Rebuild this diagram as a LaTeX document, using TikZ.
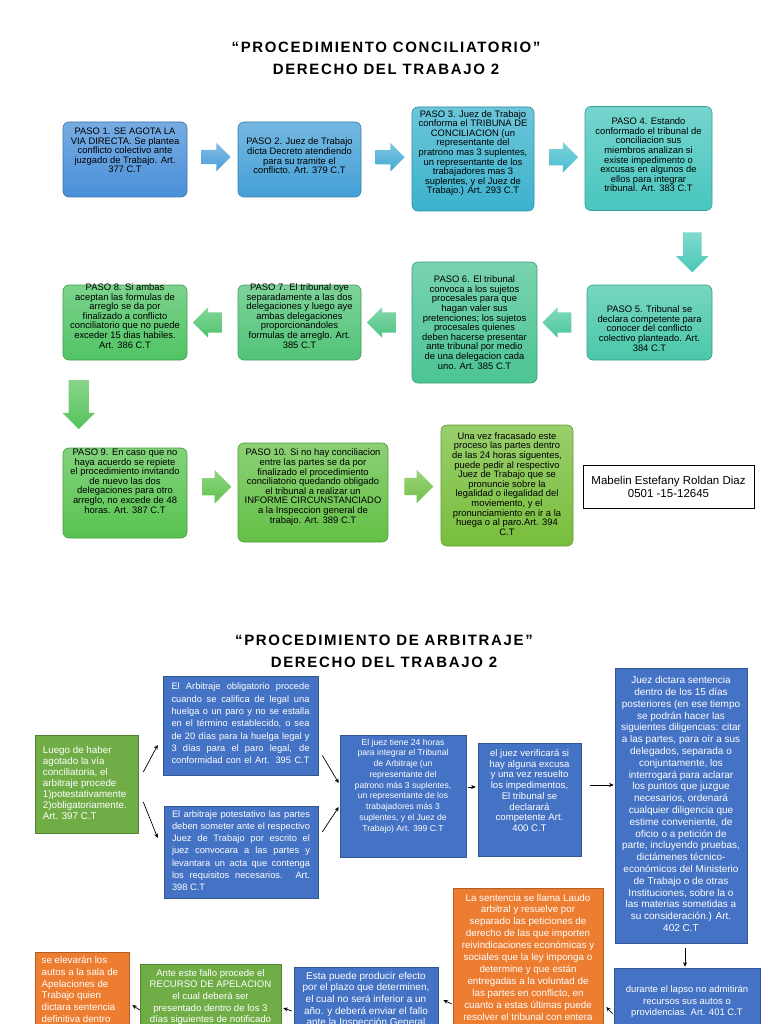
\documentclass[tikz,border=0pt]{standalone}
\usepackage{fontspec}
\setmainfont{Liberation Sans}
\newfontfamily\titlefont[LetterSpace=11]{Liberation Sans}
\usetikzlibrary{shapes.arrows,calc,arrows.meta}
\definecolor{c1}{HTML}{4A90D9}
\definecolor{c2}{HTML}{45A0D6}
\definecolor{c3}{HTML}{3CB2CD}
\definecolor{c4}{HTML}{48C6BE}
\definecolor{c5}{HTML}{4AC8AA}
\definecolor{c6}{HTML}{4CC494}
\definecolor{c7}{HTML}{52C478}
\definecolor{c8}{HTML}{50C464}
\definecolor{c9}{HTML}{58C350}
\definecolor{c10}{HTML}{64C046}
\definecolor{c11}{HTML}{78BE3C}
\definecolor{ca12}{HTML}{4A9EDA}
\definecolor{ca23}{HTML}{45ABD4}
\definecolor{ca34}{HTML}{48BECE}
\definecolor{ca45}{HTML}{49C9B8}
\definecolor{ca56}{HTML}{4BC8A0}
\definecolor{ca67}{HTML}{4FC585}
\definecolor{ca78}{HTML}{4FC46C}
\definecolor{ca89}{HTML}{56C35A}
\definecolor{ca910}{HTML}{60C24E}
\definecolor{ca1011}{HTML}{72C046}
\definecolor{cblue}{HTML}{4472C4}
\definecolor{cgreen}{HTML}{70AD47}
\definecolor{corange}{HTML}{ED7D31}
\newcommand\jl[1]{\makebox[138pt][s]{#1}}
\begin{document}
\begin{tikzpicture}[x=1pt,y=-1pt,
  pbox/.style={rounded corners=6pt, draw=#1!80!black, line width=0.6pt, top color=#1!75!white, bottom color=#1, inner sep=0pt},
  ptext/.style={align=center, inner sep=0pt, text=black, font=\fontsize{9.4}{9.6}\selectfont},
  barrow/.style={single arrow, draw=none, inner sep=0pt, top color=#1!70!white, bottom color=#1},
  bbox/.style={fill=#1, draw=#1!75!black, line width=0.6pt, inner sep=0pt},
  btext/.style={align=center, inner sep=0pt, text=white},
  thinarr/.style={-{Stealth[length=4.5pt,width=4pt]}, line width=0.7pt, black},
  titl/.style={inner sep=0pt, font=\titlefont\bfseries\fontsize{15}{16}\selectfont},
]
\path[use as bounding box] (0,0) rectangle (768,1024);
\fill[white] (0,0) rectangle (768,1024);
\clip (0,0) rectangle (768,1024);

% ---------- titles
\node[titl] (t1) at (386,47) {“PROCEDIMIENTO CONCILIATORIO”};
\node[titl] (t2) at (386,69) {DERECHO DEL TRABAJO 2};
\node[titl] (t3) at (384,640) {“PROCEDIMIENTO DE ARBITRAJE”};
\node[titl] (t4) at (384,662) {DERECHO DEL TRABAJO 2};

% ---------- conciliatorio boxes
\node[pbox=c1, minimum width=124pt, minimum height=75pt] (p1) at (125,159.5) {};
\node[pbox=c2, minimum width=123pt, minimum height=75pt] (p2) at (299.5,159.5) {};
\node[pbox=c3, minimum width=122pt, minimum height=104pt] (p3) at (473,159) {};
\node[pbox=c4, minimum width=127pt, minimum height=104pt] (p4) at (648.5,158.5) {};
\node[pbox=c5, minimum width=125pt, minimum height=75pt] (p5) at (649.5,322.5) {};
\node[pbox=c6, minimum width=125pt, minimum height=121pt] (p6) at (474.5,322.5) {};
\node[pbox=c7, minimum width=123pt, minimum height=75pt] (p7) at (299.5,322.5) {};
\node[pbox=c8, minimum width=124pt, minimum height=75pt] (p8) at (125,322.5) {};
\node[pbox=c9, minimum width=124pt, minimum height=90pt] (p9) at (125,493) {};
\node[pbox=c10, minimum width=150pt, minimum height=99pt] (p10) at (313,492.5) {};
\node[pbox=c11, minimum width=132pt, minimum height=121pt] (p11) at (507,485.5) {};

\node[ptext] (p1t) at ($(p1)+(0,-9)$) {PASO 1. SE AGOTA LA\\VIA DIRECTA. Se plantea\\conflicto colectivo ante\\juzgado de Trabajo. Art.\\377 C.T};
\node[ptext] (p2t) at ($(p2)+(0,-3.5)$) {PASO 2. Juez de Trabajo\\dicta Decreto atendiendo\\para su tramite el\\conflicto. Art. 379 C.T};
\node[ptext] (p3t) at ($(p3)+(0,-6)$) {PASO 3. Juez de Trabajo\\conforma el TRIBUNA DE\\CONCILIACION (un\\representante del\\pratrono mas 3 suplentes,\\un representante de los\\trabajadores mas 3\\suplentes, y el Juez de\\Trabajo.) Art. 293 C.T};
\node[ptext] (p4t) at ($(p4)+(0,-3.5)$) {PASO 4. Estando\\conformado el tribunal de\\conciliacion sus\\miembros analizan si\\existe impedimento o\\excusas en algunos de\\ellos para integrar\\tribunal. Art. 383 C.T};
\node[ptext] (p5t) at ($(p5)+(0,6)$) {PASO 5. Tribunal se\\declara competente para\\conocer del conflicto\\colectivo planteado. Art.\\384 C.T};
\node[ptext] (p6t) at (p6) {PASO 6. El tribunal\\convoca a los sujetos\\procesales para que\\hagan valer sus\\pretenciones; los sujetos\\procesales quienes\\deben hacerse presentar\\ante tribunal por medio\\de una delegacion cada\\uno. Art. 385 C.T};
\node[ptext] (p7t) at ($(p7)+(0,-6.5)$) {PASO 7. El tribunal oye\\separadamente a las dos\\delegaciones y luego aye\\ambas delegaciones\\proporcionandoles\\formulas de arreglo. Art.\\385 C.T};
\node[ptext] (p8t) at ($(p8)+(0,-6.5)$) {PASO 8. Si ambas\\aceptan las formulas de\\arreglo se da por\\finalizado a conflicto\\conciliatorio que no puede\\exceder 15 dias habiles.\\Art. 386 C.T};
\node[ptext] (p9t) at ($(p9)+(0,-12)$) {PASO 9. En caso que no\\haya acuerdo se repiete\\el procedimiento invitando\\de nuevo las dos\\delegaciones para otro\\arreglo, no excede de 48\\horas. Art. 387 C.T};
\node[ptext] (p10t) at ($(p10)+(0,-5.5)$) {PASO 10. Si no hay conciliacion\\entre las partes se da por\\finalizado el procedimiento\\conciliatorio quedando obligado\\el tribunal a realizar un\\INFORME CIRCUNSTANCIADO\\a la Inspeccion general de\\trabajo. Art. 389 C.T};
\node[ptext] (p11t) at ($(p11)+(0,-1.5)$) {Una vez fracasado este\\proceso las partes dentro\\de las 24 horas siguentes,\\puede pedir al respectivo\\Juez de Trabajo que se\\pronuncie sobre la\\legalidad o ilegalidad del\\moviemento, y el\\pronunciamiento en ir a la\\huega o al paro.Art. 394\\C.T};

\node[draw=black, line width=0.8pt, minimum width=171pt, minimum height=43pt, align=center, inner sep=0pt, font=\fontsize{11.5}{13}\selectfont] (name) at (668.5,486.5) {Mabelin Estefany Roldan Diaz\\0501 -15-12645};

% ---------- block arrows
\node[barrow=ca12, minimum height=29pt, inner ysep=7pt, single arrow head extend=7pt, yshift=2.5pt] (a12) at ($(p1.east)!0.5!(p2.west)$) {};
\node[barrow=ca23, minimum height=29pt, inner ysep=7pt, single arrow head extend=7pt, yshift=2pt] (a23) at ($(p2.east)!0.5!(p3.west)$) {};
\node[barrow=ca34, minimum height=29pt, inner ysep=8pt, single arrow head extend=7pt, yshift=1.5pt] (a34) at ($(p3.east)!0.5!(p4.west)$) {};
\node[barrow=ca45, minimum height=40pt, inner xsep=9pt, single arrow head extend=7pt, shape border rotate=270, xshift=-20pt] (a45) at ($(p4.south east)!0.5!(p5.north east)$) {};
\node[barrow=ca56, minimum height=29pt, inner ysep=10pt, single arrow head extend=5pt, shape border rotate=180] (a56) at ($(p6.east)!0.5!(p5.west)$) {};
\node[barrow=ca67, minimum height=29pt, inner ysep=10pt, single arrow head extend=5pt, shape border rotate=180] (a67) at ($(p7.east)!0.5!(p6.west)$) {};
\node[barrow=ca78, minimum height=29pt, inner ysep=10pt, single arrow head extend=5pt, shape border rotate=180] (a78) at ($(p8.east)!0.5!(p7.west)$) {};
\node[barrow=ca89, minimum height=49pt, inner xsep=10pt, single arrow head extend=6pt, shape border rotate=270, xshift=16pt, yshift=4.5pt] (a89) at ($(p8.south west)!0.5!(p9.north west)$) {};
\node[barrow=ca910, minimum height=29pt, inner ysep=8.5pt, single arrow head extend=8pt, yshift=6pt] (a910) at ($(p9.east)!0.5!(p10.west)$) {};
\node[barrow=ca1011, minimum height=29pt, inner ysep=8.5pt, single arrow head extend=8pt, yshift=2.5pt] (a1011) at ($(p10.east)!0.5!(p11.west)$) {};

% ---------- arbitraje boxes
\node[bbox=cgreen, minimum width=103pt, minimum height=98pt] (g1) at (86.5,784) {};
\node[bbox=cblue, minimum width=155pt, minimum height=99pt] (b1) at (240.5,725.5) {};
\node[bbox=cblue, minimum width=154pt, minimum height=92pt] (b2) at (241,852) {};
\node[bbox=cblue, minimum width=126pt, minimum height=122pt] (b3) at (403,796) {};
\node[bbox=cblue, minimum width=103pt, minimum height=113pt] (b4) at (529.5,799.5) {};
\node[bbox=cblue, minimum width=132pt, minimum height=275pt] (b5) at (681,805.5) {};
\node[bbox=cblue, minimum width=146pt, minimum height=92pt] (b6) at (687,1014) {};
\node[bbox=corange, minimum width=150pt, minimum height=172pt] (o1) at (528,974) {};
\node[bbox=cblue, minimum width=144pt, minimum height=93pt] (b7) at (366,1013.5) {};
\node[bbox=cgreen, minimum width=141pt, minimum height=96pt] (g2) at (210.5,1012) {};
\node[bbox=corange, minimum width=94pt, minimum height=108pt] (o2) at (82,1006) {};

\node[btext, align=left, anchor=west, font=\fontsize{9.8}{11}\selectfont] (g1t) at ($(g1.west)+(8,-1)$) {Luego de haber\\agotado la vía\\conciliatoria, el\\arbitraje procede\\1)potestativamente\\2)obligatoriamente.\\Art. 397 C.T};
\node[btext, align=left, font=\fontsize{9.3}{12.3}\selectfont] (b1t) at ($(b1)+(0,-2)$) {\jl{El Arbitraje obligatorio procede}\\\jl{cuando se califica de legal una}\\\jl{huelga o un paro y no se estalla}\\\jl{en el término establecido, o sea}\\\jl{de 20 días para la huelga legal y}\\\jl{3 días para el paro legal, de}\\\jl{conformidad con el Art. 395 C.T}};
\node[btext, align=left, font=\fontsize{9.3}{12.2}\selectfont] (b2t) at ($(b2)+(0,-1.5)$) {\jl{El arbitraje potestativo las partes}\\\jl{deben someter ante el respectivo}\\\jl{Juez de Trabajo por escrito el}\\\jl{juez convocara a las partes y}\\\jl{levantara un acta que contenga}\\\jl{los requisitos necesarios. Art.}\\398 C.T};
\node[btext, font=\fontsize{8.6}{10.75}\selectfont] (b3t) at ($(b3)+(0,-10)$) {El juez tiene 24 horas\\para integrar el Tribunal\\de Arbitraje (un\\representante del\\patrono más 3 suplentes,\\un representante de los\\trabajadores más 3\\suplentes, y el Juez de\\Trabajo) Art. 399 C.T};
\node[btext, font=\fontsize{9.6}{10.7}\selectfont] (b4t) at ($(b4)+(0,-9)$) {el juez verificará si\\hay alguna excusa\\y una vez resuelto\\los impedimentos,\\El tribunal se\\declarará\\competente Art.\\400 C.T};
\node[btext, font=\fontsize{10}{11.8}\selectfont] (b5t) at ($(b5)+(0,-1.5)$) {Juez dictara sentencia\\dentro de los 15 días\\posteriores (en ese tiempo\\se podrán hacer las\\siguientes diligencias: citar\\a las partes, para oír a sus\\delegados, separada o\\conjuntamente, los\\interrogará para aclarar\\los puntos que juzgue\\necesarios, ordenará\\cualquier diligencia que\\estime conveniente, de\\oficio o a petición de\\parte, incluyendo pruebas,\\dictámenes técnico-\\económicos del Ministerio\\de Trabajo o de otras\\Instituciones, sobre la o\\las materias sometidas a\\su consideración.) Art.\\402 C.T};
\node[btext, font=\fontsize{9.5}{11.6}\selectfont] (b6t) at (687,1001.5) {durante el lapso no admitirán\\recursos sus autos o\\providencias. Art. 401 C.T};
\node[btext, font=\fontsize{9.8}{11.9}\selectfont] (o1t) at (528,957) {La sentencia se llama Laudo\\arbitral y resuelve por\\separado las peticiones de\\derecho de las que importen\\reivindicaciones económicas y\\sociales que la ley imponga o\\determine y que están\\entregadas a la voluntad de\\las partes en conflicto, en\\cuanto a estas últimas puede\\resolver el tribunal con entera};
\node[btext, font=\fontsize{10}{11.6}\selectfont] (b7t) at (366,1000) {Esta puede producir efecto\\por el plazo que determinen,\\el cual no será inferior a un\\año. y deberá enviar el fallo\\ante la Inspección General};
\node[btext, font=\fontsize{9.6}{11.6}\selectfont] (g2t) at (210.5,997) {Ante este fallo procede el\\RECURSO DE APELACION\\el cual deberá ser\\presentado dentro de los 3\\días siguientes de notificado};
\node[btext, align=left, anchor=west, font=\fontsize{9.75}{11.8}\selectfont] (o2t) at (41.5,989.5) {se elevarán los\\autos a la sala de\\Apelaciones de\\Trabajo quien\\dictara sentencia\\definitiva dentro};

% ---------- thin connectors
\draw[thinarr] ($(g1.east)+(5,-12)$) -- ($(b1.west)+(-5,19.5)$);
\draw[thinarr] ($(g1.east)+(5,18)$) -- ($(b2.west)+(-6,-14)$);
\draw[thinarr] ($(b1.east)+(4,30)$) -- ($(b3.west)+(-1,-13)$);
\draw[thinarr] ($(b2.east)+(4,-20)$) -- ($(b3.west)+(-1,11)$);
\draw[thinarr] ($(b3.east)+(2,-9)$) -- ($(b4.west)+(-2,-12.5)$);
\draw[thinarr] ($(b4.east)+(9,-14.5)$) -- ($(b5.west)+(-1,-20.5)$);
\draw[thinarr] ($(b5.south)+(4,5)$) -- ($(b6.north)+(-2,-1)$);
\draw[thinarr] ($(b6.west)+(-1,0)$) -- ($(o1.east)+(3,33)$);
\draw[thinarr] ($(o1.west)+(-1,30)$) -- ($(b7.east)+(5,-13.5)$);
\draw[thinarr] ($(b7.west)+(-2,-2.5)$) -- ($(g2.east)+(2,-4)$);
\draw[thinarr] ($(g2.west)+(0,-2)$) -- ($(o2.east)+(3,-1)$);
\end{tikzpicture}
\end{document}
